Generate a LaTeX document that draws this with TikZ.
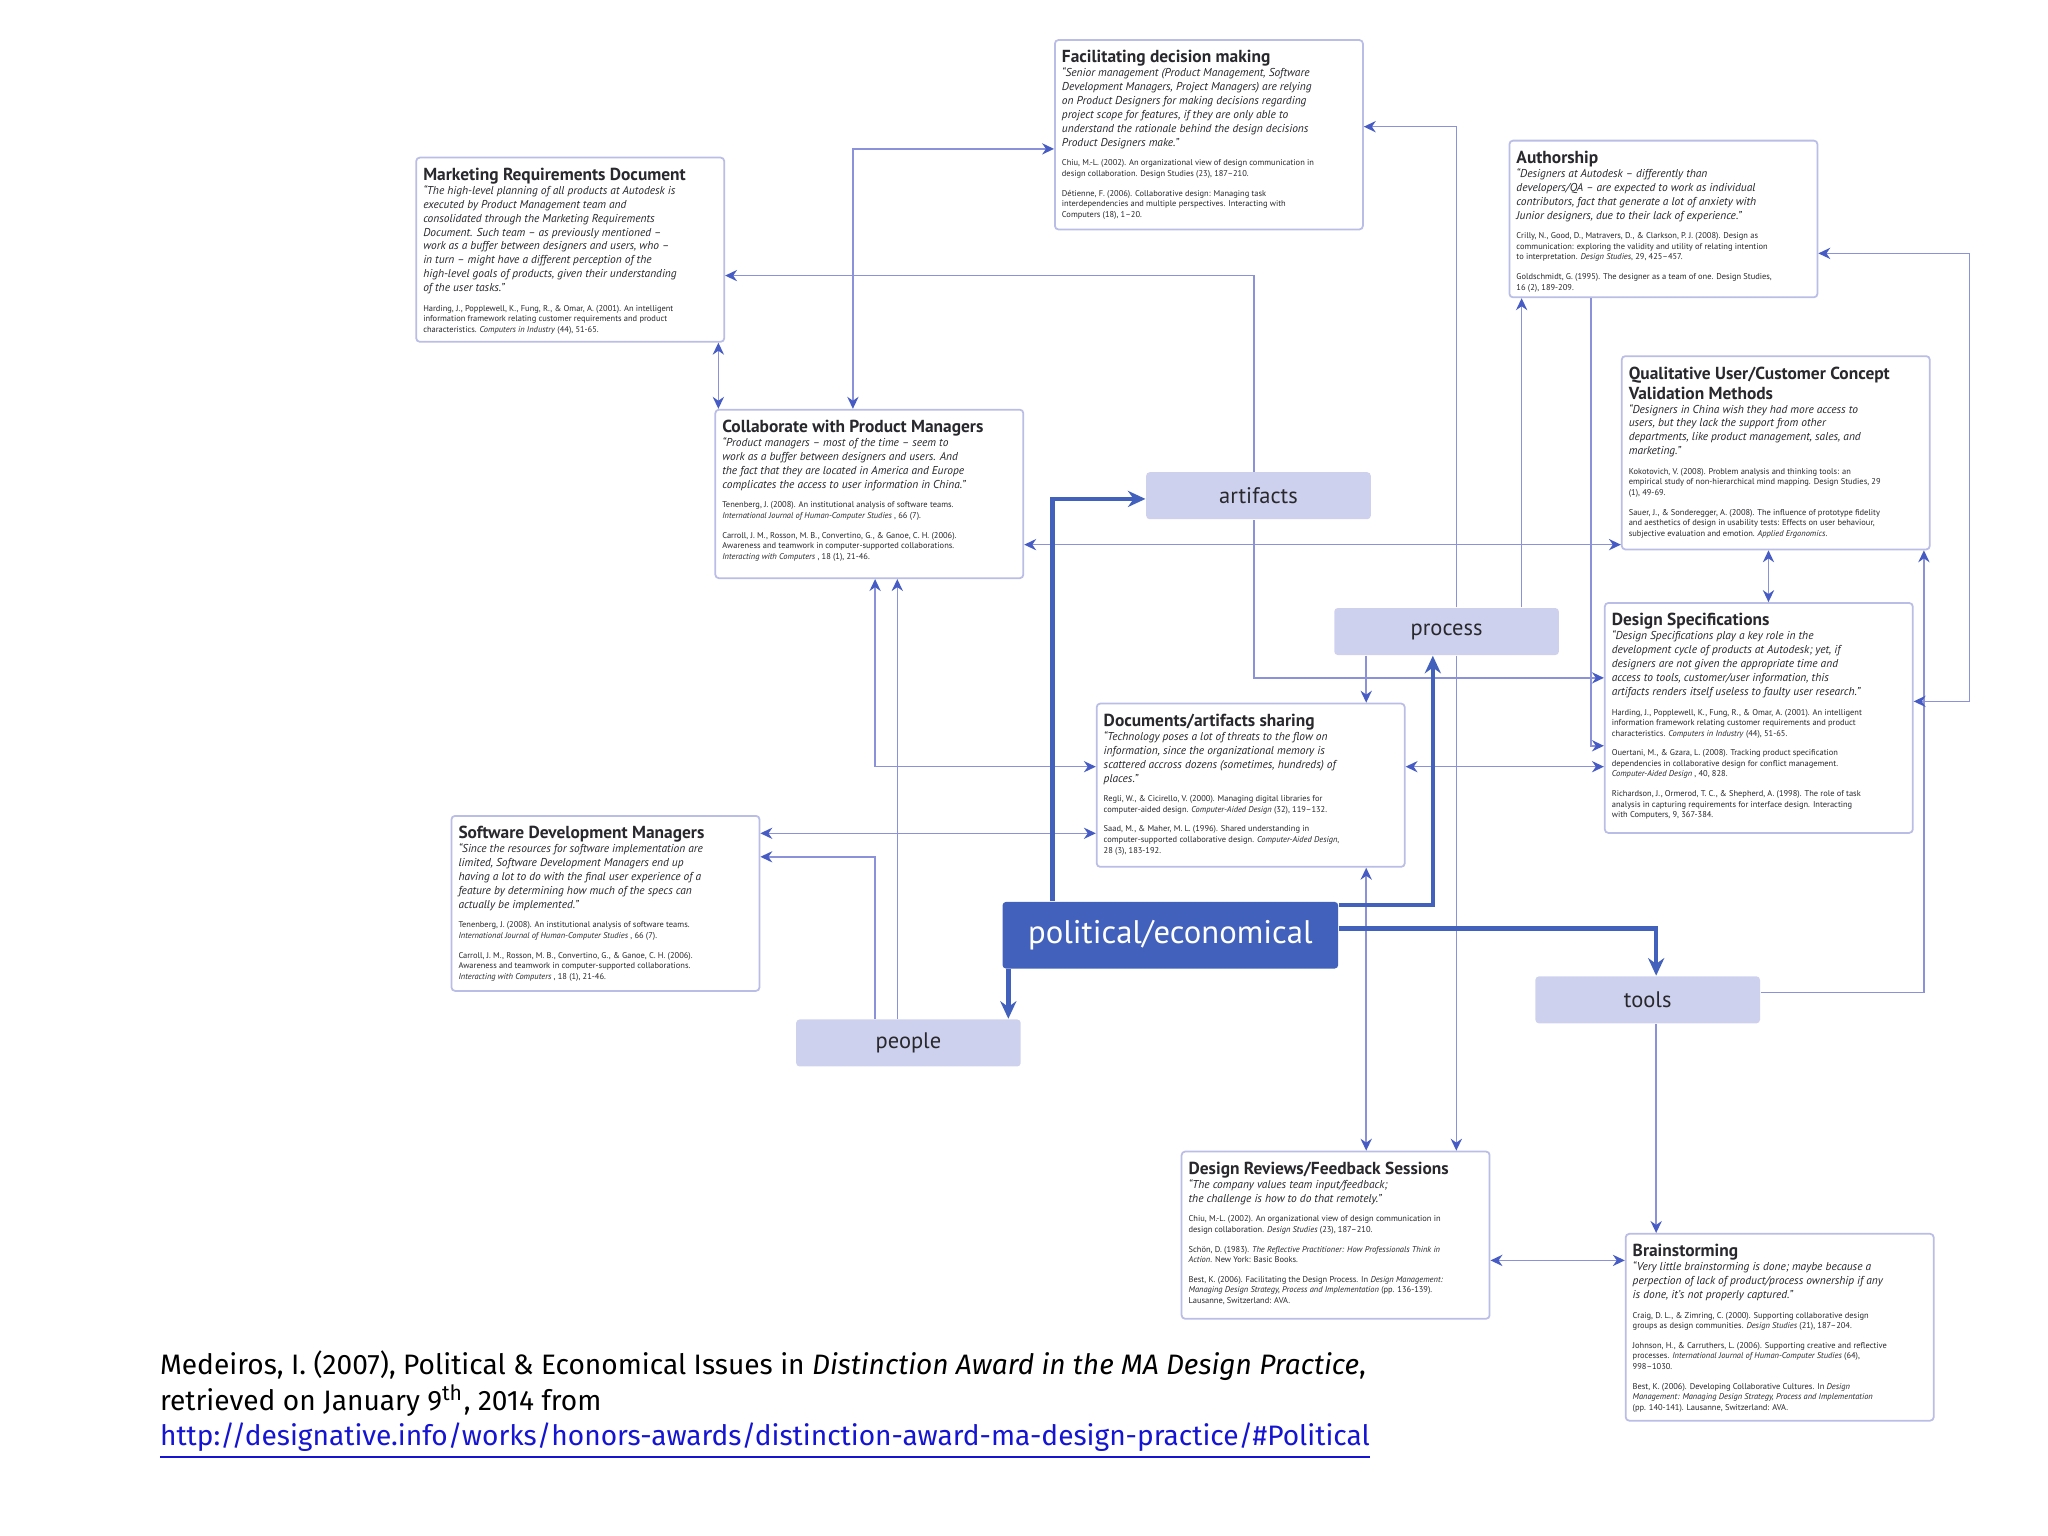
\documentclass[tikz,border=0pt]{standalone}
\usepackage{fontspec}
\setmainfont{PT Sans}
\newfontfamily\citefont{Fira Sans}
\usetikzlibrary{arrows.meta}

\definecolor{cardline}{RGB}{186,189,230}
\definecolor{linkc}{RGB}{140,146,218}
\definecolor{tipc}{RGB}{70,92,196}
\definecolor{catc}{RGB}{206,209,238}
\definecolor{pec}{RGB}{66,97,188}
\definecolor{textc}{RGB}{40,40,45}
\definecolor{urlc}{RGB}{20,20,210}

\newcommand{\cardtitle}[1]{\vspace*{1pt}{\fontsize{4.95}{5.7}\selectfont\bfseries #1\par}}
\newcommand{\cardquote}[1]{{\fontsize{3.25}{3.95}\selectfont\itshape #1\par}}
\newcommand{\cardref}[1]{\vspace{2.6pt}{\fontsize{2.4}{3.0}\selectfont #1\par}}
\newcommand{\card}[2]{\parbox[c][\dimexpr#1-4pt\relax][t]{\dimexpr3.08cm-4pt\relax}{\raggedright\color{textc}#2}}

\begin{document}
\begin{tikzpicture}[x=0.0130612cm, y=-0.0130612cm,
  >={Stealth[length=3.4pt,width=3.2pt,color=tipc]},
  card/.style={draw=cardline, line width=0.5pt, fill=white, rounded corners=1pt, inner sep=2pt, anchor=north west},
  cat/.style={fill=catc, rounded corners=1pt, minimum width=2.246cm, minimum height=0.47cm, inner sep=0pt,
    anchor=north west, text=textc, font=\fontsize{6.4}{8}\selectfont},
  pol/.style={fill=pec, rounded corners=1pt, minimum width=3.357cm, minimum height=0.666cm, inner sep=0pt,
    anchor=north west, text=white, font=\fontsize{9.3}{11}\selectfont},
  link/.style={draw=linkc, line width=0.45pt},
  heavy/.style={draw=pec, line width=1.3pt, -{Stealth[length=5pt,width=4.6pt]}}]
  \useasboundingbox (0,0) rectangle (1568,1176);

  % quotation cards
  \node[card] (fdm) at (807,30) {\card{1.894cm}{%
    \cardtitle{Facilitating decision making}
    \cardquote{``Senior management (Product Management, Software\\ Development Managers, Project Managers) are relying\\ on Product Designers for making decisions regarding\\ project scope for features, if they are only able to\\ understand the rationale behind the design decisions\\ Product Designers make.''}
    \cardref{Chiu, M.-L. (2002). An organizational view of design communication in\\ design collaboration. Design Studies (23), 187--210.}
    \cardref{Détienne, F. (2006). Collaborative design: Managing task\\ interdependencies and multiple perspectives. Interacting with\\ Computers (18), 1--20.}}};

  \node[card] (mrd) at (318,120) {\card{1.842cm}{%
    \cardtitle{Marketing Requirements Document}
    \cardquote{``The high-level planning of all products at Autodesk is\\ executed by Product Management team and\\ consolidated through the Marketing Requirements\\ Document. Such team -- as previously mentioned --\\ work as a buffer between designers and users, who --\\ in turn -- might have a different perception of the\\ high-level goals of products, given their understanding\\ of the user tasks.''}
    \cardref{Harding, J., Popplewell, K., Fung, R., \& Omar, A. (2001). An intelligent\\ information framework relating customer requirements and product\\ characteristics. \textit{Computers in Industry} (44), 51-65.}}};

  \node[card] (auth) at (1155,107) {\card{1.567cm}{%
    \cardtitle{Authorship}
    \cardquote{``Designers at Autodesk -- differently than\\ developers/QA -- are expected to work as individual\\ contributors, fact that generate a lot of anxiety with\\ Junior designers, due to their lack of experience.''}
    \cardref{Crilly, N., Good, D., Matravers, D., \& Clarkson, P. J. (2008). Design as\\ communication: exploring the validity and utility of relating intention\\ to interpretation. \textit{Design Studies}, 29, 425--457.}
    \cardref{Goldschmidt, G. (1995). The designer as a team of one. Design Studies,\\ 16 (2), 189-209.}}};

  \node[card] (cpm) at (547,313) {\card{1.685cm}{%
    \cardtitle{Collaborate with Product Managers}
    \cardquote{``Product managers -- most of the time -- seem to\\ work as a buffer between designers and users. And\\ the fact that they are located in America and Europe\\ complicates the access to user information in China.''}
    \cardref{Tenenberg, J. (2008). An institutional analysis of software teams.\\ \textit{International Journal of Human-Computer Studies} , 66 (7).}
    \cardref{Carroll, J. M., Rosson, M. B., Convertino, G., \& Ganoe, C. H. (2006).\\ Awareness and teamwork in computer-supported collaborations.\\ \textit{Interacting with Computers} , 18 (1), 21-46.}}};

  \node[card] (qual) at (1241,272) {\card{1.933cm}{%
    \cardtitle{Qualitative User/Customer Concept\\ Validation Methods}
    \cardquote{``Designers in China wish they had more access to\\ users, but they lack the support from other\\ departments, like product management, sales, and\\ marketing.''}
    \cardref{Kokotovich, V. (2008). Problem analysis and thinking tools: an\\ empirical study of non-hierarchical mind mapping. Design Studies, 29\\ (1), 49-69.}
    \cardref{Sauer, J., \& Sonderegger, A. (2008). The influence of prototype fidelity\\ and aesthetics of design in usability tests: Effects on user behaviour,\\ subjective evaluation and emotion. \textit{Applied Ergonomics}.}}};

  \node[card] (ds) at (1228,461) {\card{2.299cm}{%
    \cardtitle{Design Specifications}
    \cardquote{``Design Specifications play a key role in the\\ development cycle of products at Autodesk; yet, if\\ designers are not given the appropriate time and\\ access to tools, customer/user information, this\\ artifacts renders itself useless to faulty user research.''}
    \cardref{Harding, J., Popplewell, K., Fung, R., \& Omar, A. (2001). An intelligent\\ information framework relating customer requirements and product\\ characteristics. \textit{Computers in Industry} (44), 51-65.}
    \cardref{Ouertani, M., \& Gzara, L. (2008). Tracking product specification\\ dependencies in collaborative design for conflict management.\\ \textit{Computer-Aided Design} , 40, 828.}
    \cardref{Richardson, J., Ormerod, T. C., \& Shepherd, A. (1998). The role of task\\ analysis in capturing requirements for interface design. Interacting\\ with Computers, 9, 367-384.}}};

  \node[card] (doc) at (839,538) {\card{1.633cm}{%
    \cardtitle{Documents/artifacts sharing}
    \cardquote{``Technology poses a lot of threats to the flow on\\ information, since the organizational memory is\\ scattered accross dozens (sometimes, hundreds) of\\ places.''}
    \cardref{Regli, W., \& Cicirello, V. (2000). Managing digital libraries for\\ computer-aided design. \textit{Computer-Aided Design} (32), 119--132.}
    \cardref{Saad, M., \& Maher, M. L. (1996). Shared understanding in\\ computer-supported collaborative design. \textit{Computer-Aided Design},\\ 28 (3), 183-192.}}};

  \node[card] (sdm) at (345,624) {\card{1.750cm}{%
    \cardtitle{Software Development Managers}
    \cardquote{``Since the resources for software implementation are\\ limited, Software Development Managers end up\\ having a lot to do with the final user experience of a\\ feature by determining how much of the specs can\\ actually be implemented.''}
    \cardref{Tenenberg, J. (2008). An institutional analysis of software teams.\\ \textit{International Journal of Human-Computer Studies} , 66 (7).}
    \cardref{Carroll, J. M., Rosson, M. B., Convertino, G., \& Ganoe, C. H. (2006).\\ Awareness and teamwork in computer-supported collaborations.\\ \textit{Interacting with Computers} , 18 (1), 21-46.}}};

  \node[card] (dr) at (904,881) {\card{1.672cm}{%
    \cardtitle{Design Reviews/Feedback Sessions}
    \cardquote{``The company values team input/feedback;\\ the challenge is how to do that remotely.''}
    \cardref{Chiu, M.-L. (2002). An organizational view of design communication in\\ design collaboration. \textit{Design Studies} (23), 187--210.}
    \cardref{Schön, D. (1983). \textit{The Reflective Practitioner: How Professionals Think in\\ Action}. New York: Basic Books.}
    \cardref{Best, K. (2006). Facilitating the Design Process. In \textit{Design Management:\\ Managing Design Strategy, Process and Implementation} (pp. 136-139).\\ Lausanne, Switzerland: AVA.}}};

  \node[card] (br) at (1244,944) {\card{1.868cm}{%
    \cardtitle{Brainstorming}
    \cardquote{``Very little brainstorming is done; maybe because a\\ perpection of lack of product/process ownership if any\\ is done, it's not properly captured.''}
    \cardref{Craig, D. L., \& Zimring, C. (2000). Supporting collaborative design\\ groups as design communities. \textit{Design Studies} (21), 187--204.}
    \cardref{Johnson, H., \& Carruthers, L. (2006). Supporting creative and reflective\\ processes. \textit{International Journal of Human-Computer Studies} (64),\\ 998--1030.}
    \cardref{Best, K. (2006). Developing Collaborative Cultures. In \textit{Design\\ Management: Managing Design Strategy, Process and Implementation}\\ (pp. 140-141). Lausanne, Switzerland: AVA.}}};

  % issue categories
  \node[cat] (art) at (877,361) {artifacts};
  \node[cat] (proc) at (1021,465) {process};
  \node[cat] (tools) at (1175,747) {tools};
  \node[cat] (ppl) at (609,780) {people};
  \node[pol] (pe) at (767,690) {political/economical};

  % thin links
  \draw[link,->] (960,0 |- art.north) |- (mrd.east |- 0,211);
  \draw[link,->] (960,0 |- art.south) |- (ds.west |- 0,519);
  \draw[link,<->] (cpm.east |- 0,417) -- (qual.west |- 0,417);
  \draw[link,->] (1115,0 |- proc.north) |- (fdm.east |- 0,97);
  \draw[link,->] (1115,0 |- proc.south) -- (1115,0 |- dr.north);
  \draw[link,->] (1165,0 |- proc.north) -- (1165,0 |- auth.south);
  \draw[link,->] (1046,0 |- proc.south) -- (1046,0 |- doc.north);
  \draw[link,<->] (1046,0 |- doc.south) -- (1046,0 |- dr.north);
  \draw[link,<->] (doc.east |- 0,587) -- (ds.west |- 0,587);
  \draw[link,->] (1218,0 |- auth.south) |- (ds.west |- 0,571);
  \draw[link,<->] (1354,0 |- qual.south) -- (1354,0 |- ds.north);
  \draw[link,->] (tools.east |- 0,760) -| (1473,0 |- qual.south);
  \draw[link,<->] (auth.east |- 0,194) -- (1508,194) |- (ds.east |- 0,537);
  \draw[link,->] (1268,0 |- tools.south) -- (1268,0 |- br.north);
  \draw[link,<->] (dr.east |- 0,965) -- (br.west |- 0,965);
  \draw[link,->] (687,0 |- ppl.north) -- (687,0 |- cpm.south);
  \draw[link,<->] (670,0 |- cpm.south) |- (doc.west |- 0,587);
  \draw[link,->] (670,0 |- ppl.north) |- (sdm.east |- 0,656);
  \draw[link,<->] (sdm.east |- 0,638) -- (doc.west |- 0,638);
  \draw[link,<->] (550,0 |- mrd.south) -- (550,0 |- cpm.north);
  \draw[link,<->] (653,0 |- cpm.north) |- (fdm.west |- 0,114);

  % political/economical links
  \draw[heavy] (806,0 |- pe.north) |- (art.west |- 0,382);
  \draw[heavy] (pe.east |- 0,693) -| (1097,0 |- proc.south);
  \draw[heavy] (pe.east |- 0,711) -| (1268,0 |- tools.north);
  \draw[heavy] (772,0 |- pe.south) -- (772,0 |- ppl.north);

  \node[anchor=north west, inner sep=0pt, align=left, font=\citefont\fontsize{8}{10.1}\selectfont] (cite) at (122,1034)
    {Medeiros, I. (2007), Political \& Economical Issues in \textit{Distinction Award in the MA Design Practice},\\
     retrieved on January 9\textsuperscript{th}, 2014 from\\
     \textcolor{urlc}{\underline{http://designative.info/works/honors-awards/distinction-award-ma-design-practice/\#Political}}};
\end{tikzpicture}
\end{document}
